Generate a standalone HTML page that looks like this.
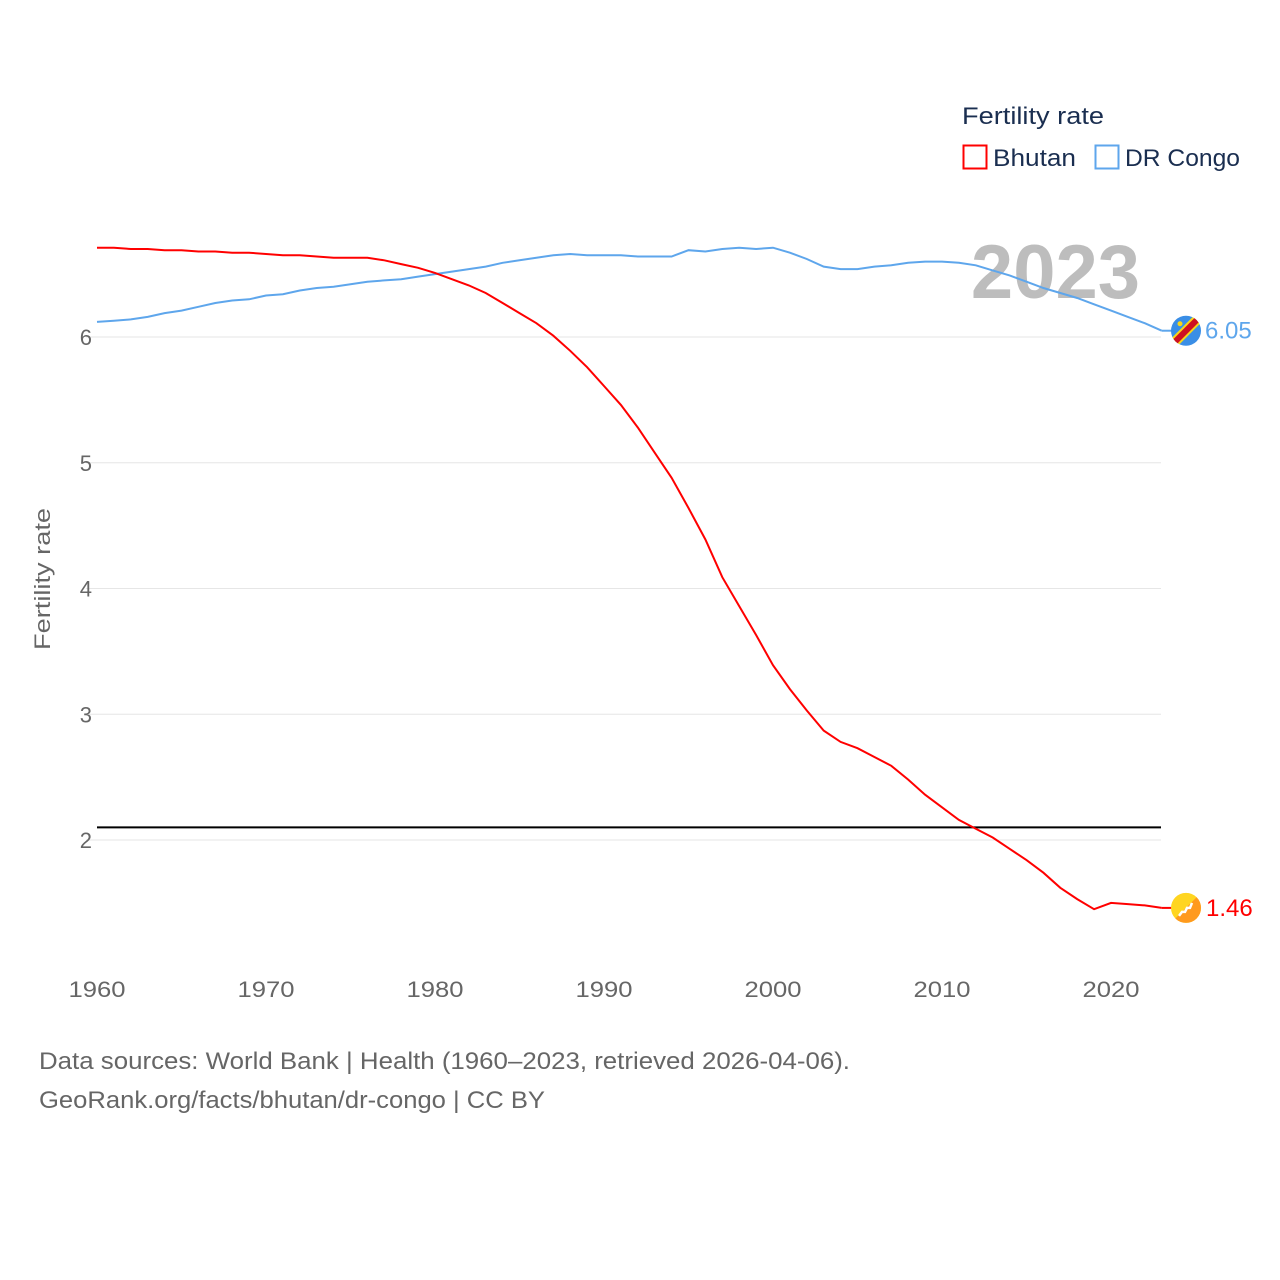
<!DOCTYPE html>
<html><head><meta charset="utf-8"><style>
body{margin:0;background:#fff;}
svg{display:block;font-family:"Liberation Sans",sans-serif;}
</style></head><body>
<svg id="chart" width="1280" height="1280" viewBox="0 0 1280 1280">
<defs><clipPath id="cb"><circle id="cbc" cx="1186" cy="0" r="15"/></clipPath><clipPath id="cc"><circle id="ccc" cx="1186" cy="0" r="15"/></clipPath></defs>
<g id="grid"></g>
<g id="yticks"></g>
<g id="xticks"></g>
<text x="50" y="579" transform="rotate(-90 50 579)" text-anchor="middle" font-size="22" fill="#666" textLength="142" lengthAdjust="spacingAndGlyphs">Fertility rate</text>
<text x="1140" y="298" text-anchor="end" font-size="76" font-weight="bold" fill="#bdbdbd">2023</text>
<g id="series"></g>
<g>
<text x="962" y="124" font-size="24" fill="#1a2e50" textLength="142" lengthAdjust="spacingAndGlyphs">Fertility rate</text>
<rect x="963.5" y="145.5" width="23" height="23" fill="none" stroke="#ff0000" stroke-width="2"/>
<text x="993" y="166" font-size="24" fill="#1a2e50" textLength="83" lengthAdjust="spacingAndGlyphs">Bhutan</text>
<rect x="1095.5" y="145.5" width="23" height="23" fill="none" stroke="#5ea6ec" stroke-width="2"/>
<text x="1125" y="166" font-size="24" fill="#1a2e50" textLength="115" lengthAdjust="spacingAndGlyphs">DR Congo</text>
</g>
<text x="39" y="1069" font-size="24" fill="#666" textLength="811" lengthAdjust="spacingAndGlyphs">Data sources: World Bank | Health (1960–2023, retrieved 2026-04-06).</text>
<text x="39" y="1108" font-size="24" fill="#666" textLength="506" lengthAdjust="spacingAndGlyphs">GeoRank.org/facts/bhutan/dr-congo | CC BY</text>
</svg>
<script>
const years = [];
for (let y = 1960; y <= 2023; y++) years.push(y);
const bhutan = [6.71,6.71,6.70,6.70,6.69,6.69,6.68,6.68,6.67,6.67,6.66,6.65,6.65,6.64,6.63,6.63,6.63,6.61,6.58,6.55,6.51,6.46,6.41,6.35,6.27,6.19,6.11,6.01,5.89,5.76,5.61,5.46,5.28,5.08,4.88,4.64,4.39,4.09,3.86,3.63,3.39,3.20,3.03,2.87,2.78,2.73,2.66,2.59,2.48,2.36,2.26,2.16,2.09,2.02,1.93,1.84,1.74,1.62,1.53,1.45,1.50,1.49,1.48,1.46];
const drcongo = [6.12,6.13,6.14,6.16,6.19,6.21,6.24,6.27,6.29,6.30,6.33,6.34,6.37,6.39,6.40,6.42,6.44,6.45,6.46,6.48,6.50,6.52,6.54,6.56,6.59,6.61,6.63,6.65,6.66,6.65,6.65,6.65,6.64,6.64,6.64,6.69,6.68,6.70,6.71,6.70,6.71,6.67,6.62,6.56,6.54,6.54,6.56,6.57,6.59,6.60,6.60,6.59,6.57,6.53,6.49,6.44,6.39,6.35,6.31,6.26,6.21,6.16,6.11,6.05];
const yTicks = [2,3,4,5,6];
const xTicks = [1960,1970,1980,1990,2000,2010,2020];
const replacementRate = 2.1;

const NS = "http://www.w3.org/2000/svg";
const xs = y => 97 + (y - 1960) * (1014 / 60);
const ys = v => 337 + (6 - v) * 125.75;
function mk(tag, attrs, parent) {
  const e = document.createElementNS(NS, tag);
  for (const k in attrs) e.setAttribute(k, attrs[k]);
  parent.appendChild(e);
  return e;
}
const grid = document.getElementById('grid');
const yt = document.getElementById('yticks');
const xt = document.getElementById('xticks');
const ser = document.getElementById('series');
yTicks.forEach(v => {
  const l = mk('line', {x1: 86, x2: 1161, y1: ys(v), y2: ys(v), stroke: '#e6e6e6', 'stroke-width': 1}, grid);
  
  
  const t = mk('text', {x: 92, y: ys(v) + 8, 'text-anchor': 'end', 'font-size': 22, fill: '#666'}, yt);
  t.textContent = v;
  
  
});
xTicks.forEach(v => {
  const t = mk('text', {x: xs(v), y: 997, 'text-anchor': 'middle', 'font-size': 22, fill: '#666', textLength: 57, lengthAdjust: 'spacingAndGlyphs'}, xt);
  t.textContent = v;
  
  
});
const rl = mk('line', {x1: 97, x2: 1161, y1: ys(replacementRate), y2: ys(replacementRate), stroke: '#000', 'stroke-width': 2}, ser);


function path(vals) { return vals.map((v, i) => (i ? 'L' : 'M') + xs(years[i]).toFixed(1) + ',' + ys(v).toFixed(1)).join(''); }
const pc = mk('path', {d: path(drcongo), fill: 'none', stroke: '#5ea6ec', 'stroke-width': 2}, ser);


const pb = mk('path', {d: path(bhutan), fill: 'none', stroke: '#ff0000', 'stroke-width': 2}, ser);



const lastX = xs(years[years.length - 1]);
// DR Congo marker
const cy1 = ys(drcongo[drcongo.length - 1]);
document.getElementById('ccc').setAttribute('cy', cy1);
const cl = mk('line', {x1: lastX, x2: 1172, y1: cy1, y2: cy1, stroke: '#5ea6ec', 'stroke-width': 2}, ser);


const gc = mk('g', {}, ser);


mk('circle', {cx: 1186, cy: cy1, r: 15, fill: '#3a8ee6'}, gc);
mk('line', {x1: 1168, y1: cy1 + 18, x2: 1204, y2: cy1 - 18, stroke: '#f7d618', 'stroke-width': 10, 'clip-path': 'url(#cc)'}, gc);
mk('line', {x1: 1168, y1: cy1 + 18, x2: 1204, y2: cy1 - 18, stroke: '#ce1021', 'stroke-width': 6, 'clip-path': 'url(#cc)'}, gc);
mk('circle', {cx: 1180, cy: cy1 - 7, r: 2.5, fill: '#f7d618'}, gc);
const tc = mk('text', {x: 1205, y: cy1 + 8, 'font-size': 24, fill: '#5ea6ec'}, ser);
tc.textContent = drcongo[drcongo.length - 1].toFixed(2);


// Bhutan marker
const by1 = ys(bhutan[bhutan.length - 1]);
document.getElementById('cbc').setAttribute('cy', by1);
const bl = mk('line', {x1: lastX, x2: 1172, y1: by1, y2: by1, stroke: '#ff0000', 'stroke-width': 2}, ser);


const gb = mk('g', {}, ser);


mk('circle', {cx: 1186, cy: by1, r: 15, fill: '#ffd520'}, gb);
mk('path', {d: `M1201,${by1 - 15} L1201,${by1 + 15} L1171,${by1 + 15} Z`, fill: '#ff9a1e', 'clip-path': 'url(#cb)'}, gb);
mk('path', {d: `M1179,${by1 + 8} l3,-4 l3,0 l2,-4 l3,0 l2,-5`, fill: 'none', stroke: '#fff', 'stroke-width': 2.5}, gb);
const tb = mk('text', {x: 1206, y: by1 + 8, 'font-size': 24, fill: '#ff0000'}, ser);
tb.textContent = bhutan[bhutan.length - 1].toFixed(2);


</script>
</body></html>
